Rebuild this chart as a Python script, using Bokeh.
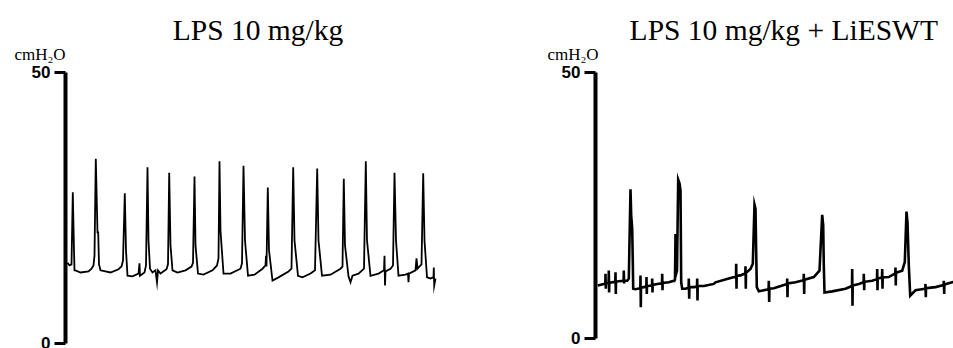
from bokeh.plotting import figure
from bokeh.layouts import row
from bokeh.models import Range1d, FixedTicker, Label
from bokeh.embed import file_html
from bokeh.resources import INLINE

# ---------------- data (time in s, pressure in cmH2O) ----------------
panel_titles = ["LPS 10 mg/kg", "LPS 10 mg/kg + LiESWT"]
unit_label = "cmH\u2082O"
y_ticks = [0, 50]

lps_time = [2, 4, 6, 7.3, 8.5, 9, 10, 15, 23, 26, 28, 29, 30.3, 32, 32.7, 33.5, 35, 45, 53, 56,
            57.5, 59.3, 60.5, 62, 67, 73, 74, 74.5, 79, 80.5, 82, 83, 84.5, 87, 90, 91.5, 92.5,
            95, 101, 102.5, 103.7, 105, 107, 112, 120, 126, 127.5, 129, 130, 132.5, 138, 147,
            151.5, 153, 154, 155, 158, 165, 175, 176.5, 178, 179.5, 182.5, 189, 197, 200, 200.5,
            201, 202.3, 203.5, 207, 213, 223, 226, 227.7, 229, 232.5, 237, 245, 249.5, 251.7,
            253, 256.5, 265, 275, 277, 278.3, 279.5, 283, 285, 287, 293, 298.5, 300.3, 301.5,
            305, 313, 318.5, 319, 319.5, 320, 325, 327.5, 329, 330.5, 333, 340, 342.5, 343,
            343.5, 350, 351, 352, 356, 357.7, 359, 361.5, 365, 368, 368.3, 368.7, 370]
lps_pressure = [14.9, 14.4, 14.6, 27.9, 17.2, 13.5, 13.5, 13.1, 13.3, 13.8, 14.4, 16.2, 34.1, 20.5,
                20.5, 14.6, 13.5, 13.1, 13.7, 14.2, 15.3, 27.7, 17.2, 12.5, 12.4, 12.9, 14.8, 12.5,
                13.1, 14.4, 32.5, 19.0, 13.8, 13.1, 13.5, 11.3, 13.5, 12.9, 13.7, 14.6, 31.5, 18.1,
                13.5, 13.1, 13.5, 14.2, 14.9, 30.8, 18.1, 12.9, 12.7, 13.5, 14.4, 15.7, 33.6, 20.8,
                12.9, 12.9, 13.8, 14.8, 32.8, 19.0, 12.5, 12.7, 13.8, 14.4, 16.2, 14.2, 28.8, 17.2,
                11.6, 12.2, 13.3, 13.8, 32.5, 19.0, 12.5, 12.2, 12.9, 13.5, 32.3, 19.0, 12.5, 12.7,
                13.8, 14.2, 30.4, 18.1, 12.4, 11.3, 12.5, 12.9, 13.8, 33.6, 19.0, 12.5, 12.9, 13.5,
                16.2, 10.7, 13.3, 13.8, 14.4, 31.5, 19.0, 12.5, 12.7, 12.9, 11.3, 12.9, 13.5, 15.7,
                13.8, 14.6, 31.4, 19.0, 12.2, 12.0, 12.2, 14.0, 10.7, 12.0]

eswt_time = [2.3, 8.3, 9.8, 10, 10.3, 10.5, 13.1, 13.3, 13.6, 13.8, 16.7, 19.8, 20, 20.3, 20.5,
             23.3, 28.1, 28.3, 28.6, 28.8, 31.7, 33.3,
             35, 35.7, 36.7, 37.3, 37.7,
             40, 44.8, 45, 45.3, 45.5, 48.3, 50.8, 51, 51.3, 51.5, 56.5, 56.7, 57, 57.2, 61.7,
             66.5, 66.7, 67, 67.2, 73.3, 78.3,
             79.5, 80, 80.5, 81.5, 82.7, 84, 85, 85.7, 86.7,
             90, 93.1, 93.3, 93.7, 93.9, 98.3, 101.5, 101.7, 102, 102.2, 108.3, 118.3, 120,
             133.3, 140.5, 140.7, 141, 141.2, 145, 149.8, 150, 150.3, 150.5, 155, 157.3,
             159, 160, 160.7, 161.3, 163.3,
             173.1, 173.3, 173.7, 173.9, 178.3, 191.5, 191.7, 192, 192.2, 200, 208.1, 208.3,
             208.7, 208.9, 218.3, 224,
             226.7, 227.7, 228.3, 229,
             236.7, 250, 256.5, 256.7, 257, 257.2, 263.3, 268.1, 268.3, 268.7, 268.9, 276.7,
             281.5, 281.7, 282, 282.2, 286.5, 286.7, 287, 287.2, 293.3, 299.8, 300, 300.3,
             300.5, 306.7, 309.3,
             311, 312, 313.3, 314.7,
             320, 329.8, 330, 330.3, 330.5, 340, 348.1, 348.3, 348.7, 348.9, 356.7, 361]
eswt_pressure = [9.9, 10.2, 10.3, 12.1, 9.3, 10.3, 10.4, 12.7, 8.6, 10.4, 10.5, 10.6, 12.4, 8.3, 10.6,
                 10.7, 10.8, 12.7, 10.3, 10.8, 10.8, 11.2,
                 28.0, 23.1, 20.6, 14.3, 9.3,
                 9.2, 9.4, 11.8, 5.8, 9.5, 9.6, 9.7, 11.5, 8.3, 9.8, 9.9, 11.2, 8.6, 10.0, 10.2,
                 10.3, 12.1, 9.0, 10.4, 10.5, 10.8,
                 11.0, 19.6, 12.0, 12.7, 29.8, 29.1, 27.8, 10.5, 9.3,
                 9.3, 9.5, 11.2, 7.4, 9.6, 9.6, 9.7, 11.2, 7.1, 9.8, 9.8, 10.2, 10.5,
                 11.2, 11.6, 14.0, 9.3, 11.7, 11.8, 12.2, 13.5, 9.3, 12.3, 13.0, 14.0,
                 25.1, 24.3, 16.2, 9.6, 8.8,
                 9.2, 10.8, 6.8, 9.3, 9.4, 10.2, 11.2, 7.7, 10.3, 10.5, 10.9, 12.1,
                 8.3, 11.0, 11.5, 12.7,
                 23.2, 21.2, 13.7, 8.6,
                 8.8, 9.3, 9.8, 13.0, 6.1, 9.9, 10.2, 10.5, 12.1, 9.0, 10.6, 10.8,
                 11.1, 13.0, 9.0, 11.2, 11.4, 13.0, 9.3, 11.4, 11.5, 12.2, 13.3, 9.9,
                 12.3, 12.7, 14.3,
                 23.8, 21.8, 13.7, 8.0,
                 9.0, 9.3, 10.2, 7.7, 9.4, 9.6, 10.0, 10.8, 8.3, 10.1, 10.5, 10.7]


def make_panel(t, p, width, height, x_range, y_range, lw,
               title, title_x, title_y, unit_x, unit_y):
    fig = figure(width=width, height=height, output_backend="svg", toolbar_location=None,
                 x_axis_location=None, x_range=Range1d(*x_range), y_range=Range1d(*y_range),
                 min_border=0, min_border_left=0, min_border_right=0,
                 min_border_top=0, min_border_bottom=0)
    fig.line(t, p, line_color="black", line_width=lw, line_join="miter")
    fig.grid.visible = False
    fig.outline_line_color = None
    fig.background_fill_color = "white"
    fig.border_fill_color = "white"
    ax = fig.yaxis[0]
    ax.fixed_location = 0
    ax.bounds = (0, 50)
    ax.ticker = FixedTicker(ticks=y_ticks)
    ax.minor_tick_line_color = None
    ax.major_tick_in = 0
    ax.major_tick_out = 11
    ax.major_tick_line_width = 3
    ax.major_tick_line_color = "black"
    ax.axis_line_width = 4
    ax.axis_line_color = "black"
    ax.major_label_text_font = "Liberation Sans"
    ax.major_label_text_font_style = "bold"
    ax.major_label_text_font_size = "17px"
    ax.major_label_text_color = "black"
    ax.major_label_standoff = 4
    fig.add_layout(Label(x=title_x, y=title_y, text=title, text_align="center",
                         text_baseline="middle", text_font="Liberation Serif",
                         text_font_size="29.5px", text_color="black"))
    fig.add_layout(Label(x=unit_x, y=unit_y, text=unit_label, text_align="center",
                         text_baseline="middle", text_font="Liberation Serif",
                         text_font_size="17px", text_color="black"))
    return fig


left = make_panel(lps_time, lps_pressure, 480, 348, (-65, 415), (-0.92, 63.28), 1.8,
                  panel_titles[0], 192.5, 57.8, -25.5, 53.3)
right = make_panel(eswt_time, eswt_pressure, 473, 348, (-115, 358), (-1.94, 63.48), 2.6,
                   panel_titles[1], 188.3, 57.9, -22.5, 53.3)

layout = row(left, right)
open("out.html", "w").write(file_html(layout, INLINE))
